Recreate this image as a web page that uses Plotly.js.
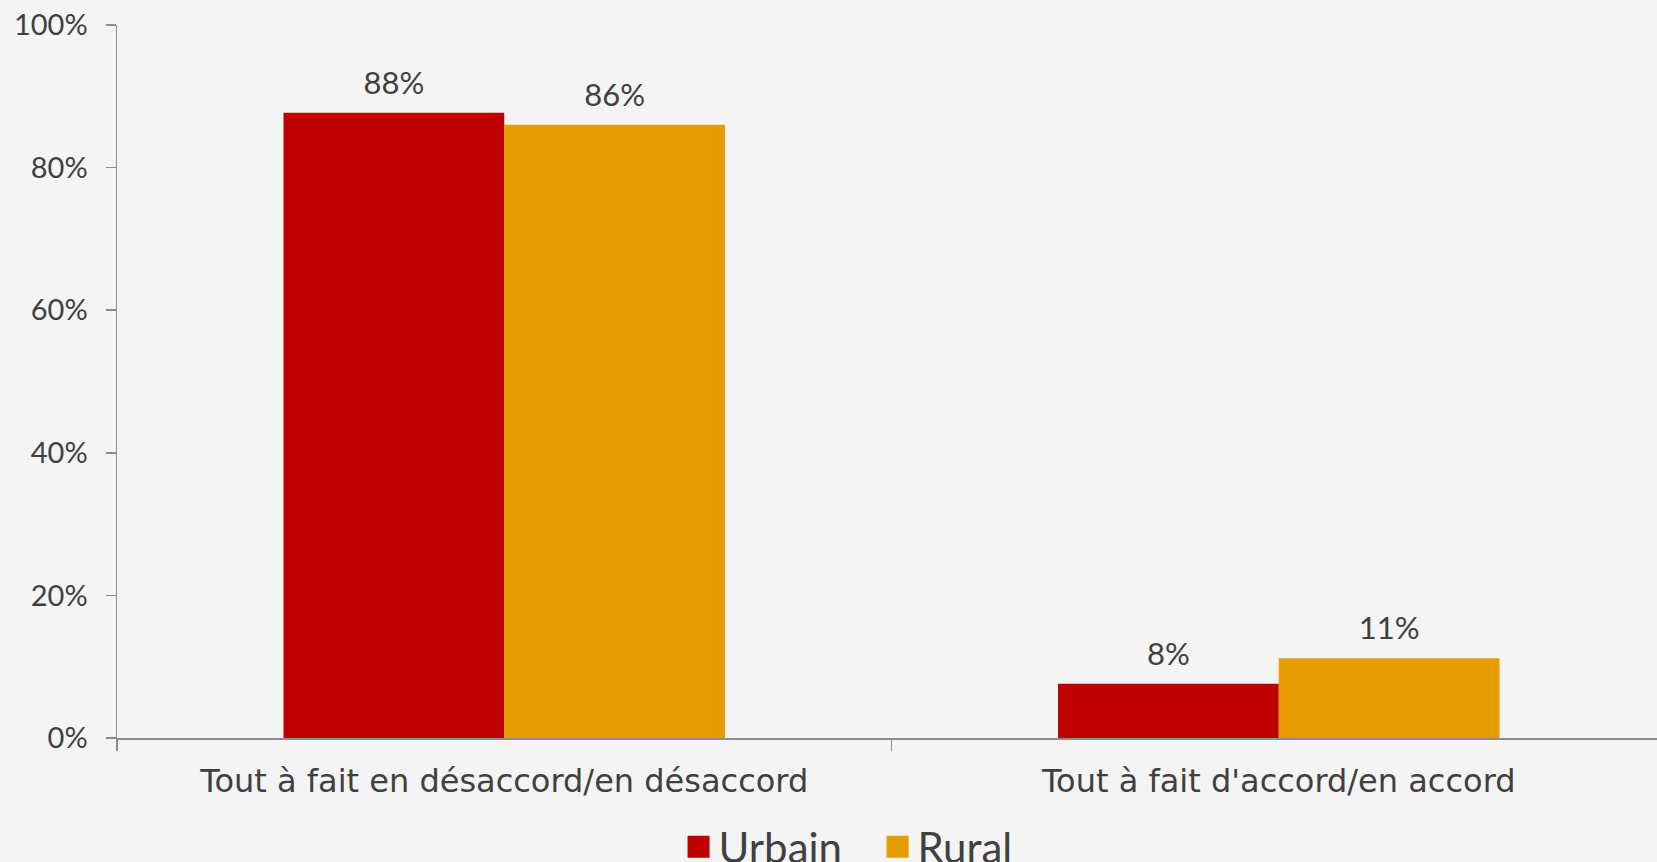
<!DOCTYPE html>
<html>
<head>
<meta charset="utf-8">
<script src="https://cdn.plot.ly/plotly-3.0.1.min.js"></script>
<style>
    html, body { margin: 0; padding: 0; overflow: hidden; background: #f4f4f4; }
    #graphique { width: 1670px; height: 900px; }
</style>
</head>
<body>
<div id="graphique"></div>
<script>
    //Donnees du graphique
    var categories = ["Tout à fait en désaccord/en désaccord", "Tout à fait d'accord/en accord"];
    var urbain = [0.877, 0.076];
    var rural = [0.86, 0.112];
    var series = ["Urbain", "Rural"];
    var couleurs = ["#c00000", "#e59c00"];

    var police = "Lato, 'Noto Sans', sans-serif";
    var policeTexte = "'DejaVu Sans', sans-serif";
    var gris = "#404040";

    //Traces de barres
    var data = [{
        x: categories,
        y: urbain,
        name: series[0],
        type: "bar",
        marker: { color: couleurs[0] },
        texttemplate: "%{y:.0%}",
        textposition: "outside",
        textfont: { family: police, size: 31, color: gris },
        cliponaxis: false,
        hoverinfo: "none"
    }, {
        x: categories,
        y: rural,
        name: series[1],
        type: "bar",
        marker: { color: couleurs[1] },
        texttemplate: "%{y:.0%}",
        textposition: "outside",
        textfont: { family: police, size: 31, color: gris },
        cliponaxis: false,
        hoverinfo: "none"
    }];

    var layout = {
        width: 1670,
        height: 900,
        margin: { l: 117, r: 4, t: 25, b: 162, autoexpand: false },
        paper_bgcolor: "#f4f4f4",
        plot_bgcolor: "rgba(0,0,0,0)",
        font: { family: police, color: gris },
        barmode: "group",
        bargap: 0.43,
        bargroupgap: 0,
        showlegend: true,
        legend: {
            orientation: "h",
            x: 0.491, xanchor: "center",
            y: -0.105, yanchor: "top",
            entrywidth: 154,
            font: { family: police, size: 42, color: gris },
            bgcolor: "rgba(0,0,0,0)",
            itemclick: false
        },
        xaxis: {
            showline: true,
            linecolor: "#8c8c8c",
            linewidth: 1.5,
            ticks: "outside",
            tickson: "boundaries",
            ticklen: 11,
            tickcolor: "#8c8c8c",
            tickwidth: 1.5,
            tickfont: { family: policeTexte, size: 32, color: gris },
            ticklabelstandoff: 14,
            showgrid: false,
            zeroline: false
        },
        yaxis: {
            range: [0, 1],
            dtick: 0.2,
            tickformat: ".0%",
            showline: true,
            linecolor: "#8c8c8c",
            linewidth: 1.5,
            ticks: "outside",
            ticklen: 10,
            tickcolor: "#8c8c8c",
            tickwidth: 1.5,
            tickfont: { family: police, size: 29, color: gris },
            ticklabelstandoff: 12,
            showgrid: false,
            zeroline: false
        }
    };

    Plotly.newPlot("graphique", data, layout, { staticPlot: true }).then(function () {
        //agrandir les carres de la legende
        document.querySelectorAll(".legendpoints path").forEach(function (p) {
            p.setAttribute("d", "M11,11H-11V-11H11Z");
        });
        //remonter un peu les etiquettes des barres
        document.querySelectorAll(".bartext").forEach(function (t) {
            var tr = t.getAttribute("transform") || "";
            t.setAttribute("transform", "translate(0,-9) " + tr);
        });
    });
</script>
</body>
</html>
